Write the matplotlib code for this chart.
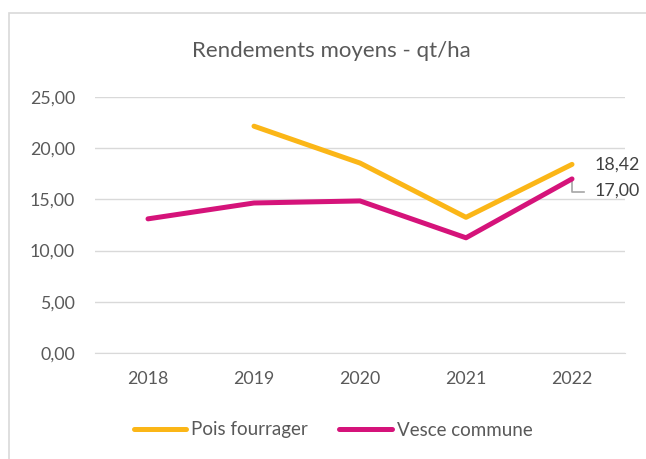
import matplotlib
matplotlib.use("Agg")
import matplotlib.pyplot as plt
from matplotlib.patches import Rectangle
from matplotlib.lines import Line2D

years = ["2018", "2019", "2020", "2021", "2022"]
pois = [None, 22.15, 18.55, 13.25, 18.42]
vesce = [13.1, 14.65, 14.85, 11.25, 17.00]
yticks = [0, 5, 10, 15, 20, 25]
ytick_labels = ["0,00", "5,00", "10,00", "15,00", "20,00", "25,00"]
series_names = ["Pois fourrager", "Vesce commune"]

plt.rcParams['font.family'] = ['Lato', 'DejaVu Sans']
grey = "#595959"
c_pois = "#FBB617"
c_vesce = "#D5137A"

W, H = 646, 459
fig = plt.figure(figsize=(W/100, H/100), dpi=100)
fig.patches.append(Rectangle((9/W, -0.05), 1.0, 1.05 - 13/H, transform=fig.transFigure,
                             fill=False, edgecolor="#D9D9D9", linewidth=1.2))
ax = fig.add_axes([95/W, 1-353/H, 530/W, (353-97)/H])

x = list(range(len(years)))
px = [i for i, v in enumerate(pois) if v is not None]
py = [v for v in pois if v is not None]
ax.plot(px, py, color=c_pois, linewidth=3.6, solid_capstyle="round")
ax.plot(x, vesce, color=c_vesce, linewidth=3.6, solid_capstyle="round")

ax.set_xlim(-0.5, len(years) - 0.5)
ax.set_ylim(0, 25)
ax.set_yticks(yticks)
ax.set_yticklabels(ytick_labels)
ax.set_xticks(x)
ax.set_xticklabels(years)
ax.grid(axis="y", color="#D9D9D9", linewidth=1)
ax.set_axisbelow(True)
for s in ["top", "right", "left"]:
    ax.spines[s].set_visible(False)
ax.spines["bottom"].set_color("#D9D9D9")
ax.tick_params(axis="both", length=0, colors=grey, labelsize=12.8)
ax.tick_params(axis="x", pad=13)
ax.tick_params(axis="y", pad=14.5)

fig.text(331/W, 1-57/H, "Rendements moyens - qt/ha", color=grey, fontsize=16,
         ha="center", va="baseline")

# data labels
ax.annotate("18,42", xy=(4, pois[4]), xytext=(16.5, 0), textcoords="offset points",
            color="#404040", fontsize=12.8, va="center", ha="left")
ax.annotate("17,00", xy=(4, vesce[4]), xytext=(16.5, -8.5), textcoords="offset points",
            color="#404040", fontsize=12.8, va="center", ha="left")
ax.plot([4, 4, 4.115], [vesce[4], vesce[4] - 1.25, vesce[4] - 1.25], color="#A6A6A6",
        linewidth=1.2, clip_on=False, zorder=1)

handles = [Line2D([], [], color=c_pois, linewidth=3.6, solid_capstyle="round"),
           Line2D([], [], color=c_vesce, linewidth=3.6, solid_capstyle="round")]
fig.legend(handles, series_names, loc="center", bbox_to_anchor=(333/W, 1-430/H),
           ncol=2, frameon=False, fontsize=13.5, handlelength=2.8, handletextpad=0.25,
           columnspacing=1.7, labelcolor=grey, borderpad=0, borderaxespad=0)

fig.savefig("out.png", dpi=100)
